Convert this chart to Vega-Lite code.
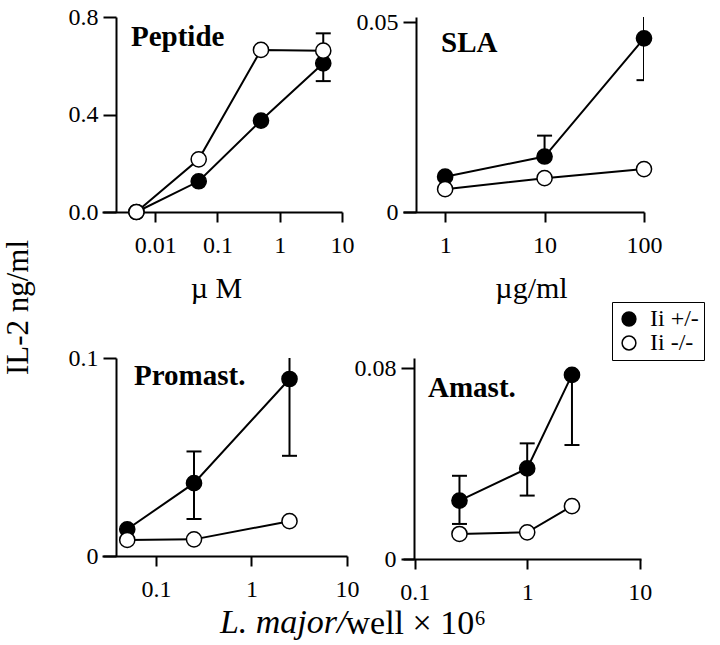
{
  "$schema": "https://vega.github.io/schema/vega-lite/v6.json",
  "background": "white",
  "autosize": {"type": "pad"},
  "padding": {"left": 2, "top": 5, "right": 5, "bottom": 5},
  "datasets": {
    "pts": [
      {"panel": "Peptide", "series": "Ii +/-", "dose": 0.005, "il2": 0.0},
      {"panel": "Peptide", "series": "Ii +/-", "dose": 0.05, "il2": 0.126},
      {"panel": "Peptide", "series": "Ii +/-", "dose": 0.5, "il2": 0.375},
      {"panel": "Peptide", "series": "Ii +/-", "dose": 5, "il2": 0.61},
      {"panel": "Peptide", "series": "Ii -/-", "dose": 0.005, "il2": 0.0},
      {"panel": "Peptide", "series": "Ii -/-", "dose": 0.05, "il2": 0.216},
      {"panel": "Peptide", "series": "Ii -/-", "dose": 0.5, "il2": 0.665},
      {"panel": "Peptide", "series": "Ii -/-", "dose": 5, "il2": 0.662},
      {"panel": "SLA", "series": "Ii +/-", "dose": 1, "il2": 0.0093},
      {"panel": "SLA", "series": "Ii +/-", "dose": 10, "il2": 0.0146},
      {"panel": "SLA", "series": "Ii +/-", "dose": 100, "il2": 0.0457},
      {"panel": "SLA", "series": "Ii -/-", "dose": 1, "il2": 0.006},
      {"panel": "SLA", "series": "Ii -/-", "dose": 10, "il2": 0.0089},
      {"panel": "SLA", "series": "Ii -/-", "dose": 100, "il2": 0.0113},
      {"panel": "Promast", "series": "Ii +/-", "dose": 0.05, "il2": 0.0135},
      {"panel": "Promast", "series": "Ii +/-", "dose": 0.25, "il2": 0.0368},
      {"panel": "Promast", "series": "Ii +/-", "dose": 2.5, "il2": 0.0894},
      {"panel": "Promast", "series": "Ii -/-", "dose": 0.05, "il2": 0.0081},
      {"panel": "Promast", "series": "Ii -/-", "dose": 0.25, "il2": 0.0084},
      {"panel": "Promast", "series": "Ii -/-", "dose": 2.5, "il2": 0.0176},
      {"panel": "Amast", "series": "Ii +/-", "dose": 0.25, "il2": 0.0245},
      {"panel": "Amast", "series": "Ii +/-", "dose": 1, "il2": 0.038},
      {"panel": "Amast", "series": "Ii +/-", "dose": 2.5, "il2": 0.0772},
      {"panel": "Amast", "series": "Ii -/-", "dose": 0.25, "il2": 0.0105},
      {"panel": "Amast", "series": "Ii -/-", "dose": 1, "il2": 0.0112},
      {"panel": "Amast", "series": "Ii -/-", "dose": 2.5, "il2": 0.0222}
    ],
    "err": [
      {"panel": "Peptide", "dose": 5, "mean": 0.61, "end": 0.733},
      {"panel": "Peptide", "dose": 5, "mean": 0.61, "end": 0.537},
      {"panel": "SLA", "dose": 10, "mean": 0.0146, "end": 0.0201},
      {"panel": "SLA", "dose": 100, "mean": 0.0457, "end": 0.0525},
      {"panel": "SLA", "dose": 100, "mean": 0.0457, "end": 0.0347},
      {"panel": "Promast", "dose": 0.25, "mean": 0.0368, "end": 0.0528},
      {"panel": "Promast", "dose": 0.25, "mean": 0.0368, "end": 0.0187},
      {"panel": "Promast", "dose": 2.5, "mean": 0.0894, "end": 0.105},
      {"panel": "Promast", "dose": 2.5, "mean": 0.0894, "end": 0.0506},
      {"panel": "Amast", "dose": 0.25, "mean": 0.0245, "end": 0.0349},
      {"panel": "Amast", "dose": 0.25, "mean": 0.0245, "end": 0.0147},
      {"panel": "Amast", "dose": 1, "mean": 0.038, "end": 0.0485},
      {"panel": "Amast", "dose": 1, "mean": 0.038, "end": 0.0266},
      {"panel": "Amast", "dose": 2.5, "mean": 0.0772, "end": 0.0478}
    ]
  },
  "columns": 2,
  "align": "none",
  "bounds": "flush",
  "spacing": {"row": 146, "column": 56},
  "concat": [
    {
      "width": 240, "height": 195,
      "title": {"text": "Peptide", "dx": 29, "dy": 51},
      "encoding": {
        "x": {"field": "dose", "type": "quantitative",
          "scale": {"type": "log", "domain": [0.0014, 10], "nice": false},
          "axis": {"values": [0.01, 0.1, 1, 10], "format": "~g", "title": "µ M", "titleX": 114, "titleY": 85, "titleBaseline": "alphabetic", "titleAlign": "center"}}
      },
      "layer": [
        {"data": {"name": "err"}, "transform": [{"filter": "datum.panel === 'Peptide'"}],
         "mark": {"type": "rule", "clip": true, "strokeWidth": 2, "color": "black"},
         "encoding": {"y": {"field": "mean", "type": "quantitative"}, "y2": {"field": "end"}}},
        {"data": {"name": "err"}, "transform": [{"filter": "datum.panel === 'Peptide'"}],
         "mark": {"type": "tick", "orient": "horizontal", "clip": true, "size": 15, "thickness": 2, "color": "black", "opacity": 1},
         "encoding": {"y": {"field": "end", "type": "quantitative"}}},
        {"data": {"name": "pts"}, "transform": [{"filter": "datum.panel === 'Peptide'"}],
         "mark": {"type": "line", "color": "black", "strokeWidth": 2},
         "encoding": {
           "y": {"field": "il2", "type": "quantitative",
             "scale": {"domain": [0, 0.8], "nice": false, "zero": false},
             "axis": {"values": [0, 0.4, 0.8], "format": ".1f", "offset": -14, "title": "IL-2 ng/ml", "titleX": -89, "titleY": 290, "titleAngle": 270, "titleAlign": "center", "titleBaseline": "alphabetic", "titleFontSize": 31}},
           "detail": {"field": "series"}}},
        {"data": {"name": "pts"}, "transform": [{"filter": "datum.panel === 'Peptide'"}],
         "mark": {"type": "point", "shape": "circle", "filled": true, "stroke": "black", "strokeWidth": 1.5, "size": 230, "opacity": 1},
         "encoding": {
           "y": {"field": "il2", "type": "quantitative"},
           "fill": {"field": "series", "type": "nominal", "scale": {"domain": ["Ii +/-", "Ii -/-"], "range": ["black", "white"]},
             "legend": {"title": null, "orient": "none", "legendX": 510, "legendY": 285, "strokeColor": "black", "padding": 5, "labelFont": "Liberation Serif", "labelFontSize": 24, "labelColor": "black", "symbolType": "circle", "symbolSize": 190, "symbolStrokeColor": "black", "symbolStrokeWidth": 1.5, "rowPadding": 0, "labelOffset": 9}}}}
      ]
    },
    {
      "width": 241, "height": 195,
      "title": {"text": "SLA", "dx": 38, "dy": 52},
      "encoding": {
        "x": {"field": "dose", "type": "quantitative",
          "scale": {"type": "log", "domain": [0.377, 100], "nice": false},
          "axis": {"values": [1, 10, 100], "format": "~g", "title": "µg/ml", "titleX": 128, "titleY": 85, "titleBaseline": "alphabetic", "titleAlign": "center"}}
      },
      "layer": [
        {"data": {"name": "err"}, "transform": [{"filter": "datum.panel === 'SLA'"}],
         "mark": {"type": "rule", "clip": true, "strokeWidth": 2, "color": "black"},
         "encoding": {"y": {"field": "mean", "type": "quantitative"}, "y2": {"field": "end"}}},
        {"data": {"name": "err"}, "transform": [{"filter": "datum.panel === 'SLA'"}],
         "mark": {"type": "tick", "orient": "horizontal", "clip": true, "size": 15, "thickness": 2, "color": "black", "opacity": 1},
         "encoding": {"y": {"field": "end", "type": "quantitative"}}},
        {"data": {"name": "pts"}, "transform": [{"filter": "datum.panel === 'SLA'"}],
         "mark": {"type": "line", "color": "black", "strokeWidth": 2},
         "encoding": {
           "y": {"field": "il2", "type": "quantitative",
             "scale": {"domain": [0, 0.05132], "nice": false, "zero": false},
             "axis": {"values": [0, 0.05], "format": "~g", "offset": -13, "title": null}},
           "detail": {"field": "series"}}},
        {"data": {"name": "pts"}, "transform": [{"filter": "datum.panel === 'SLA'"}],
         "mark": {"type": "point", "shape": "circle", "filled": true, "stroke": "black", "strokeWidth": 1.5, "size": 230, "opacity": 1},
         "encoding": {
           "y": {"field": "il2", "type": "quantitative"},
           "fill": {"field": "series", "type": "nominal"}}}
      ]
    },
    {
      "width": 245, "height": 198,
      "title": {"text": "Promast.", "dx": 32, "dy": 49},
      "encoding": {
        "x": {"field": "dose", "type": "quantitative",
          "scale": {"type": "log", "domain": [0.0272, 10], "nice": false},
          "axis": {"values": [0.1, 1, 10], "format": "~g", "title": "L. major/", "titleFontStyle": "italic", "titleFontSize": 34, "titleX": 244, "titleY": 76, "titleBaseline": "alphabetic", "titleAlign": "right"}}
      },
      "layer": [
        {"data": {"name": "err"}, "transform": [{"filter": "datum.panel === 'Promast'"}],
         "mark": {"type": "rule", "clip": true, "strokeWidth": 2, "color": "black"},
         "encoding": {"y": {"field": "mean", "type": "quantitative"}, "y2": {"field": "end"}}},
        {"data": {"name": "err"}, "transform": [{"filter": "datum.panel === 'Promast'"}],
         "mark": {"type": "tick", "orient": "horizontal", "clip": true, "size": 15, "thickness": 2, "color": "black", "opacity": 1},
         "encoding": {"y": {"field": "end", "type": "quantitative"}}},
        {"data": {"name": "pts"}, "transform": [{"filter": "datum.panel === 'Promast'"}],
         "mark": {"type": "line", "color": "black", "strokeWidth": 2},
         "encoding": {
           "y": {"field": "il2", "type": "quantitative",
             "scale": {"domain": [0, 0.1], "nice": false, "zero": false},
             "axis": {"values": [0, 0.1], "format": "~g", "offset": -14, "title": null}},
           "detail": {"field": "series"}}},
        {"data": {"name": "pts"}, "transform": [{"filter": "datum.panel === 'Promast'"}],
         "mark": {"type": "point", "shape": "circle", "filled": true, "stroke": "black", "strokeWidth": 1.5, "size": 230, "opacity": 1},
         "encoding": {
           "y": {"field": "il2", "type": "quantitative"},
           "fill": {"field": "series", "type": "nominal"}}}
      ]
    },
    {
      "width": 238, "height": 201,
      "title": {"text": "Amast.", "dx": 25, "dy": 51},
      "encoding": {
        "x": {"field": "dose", "type": "quantitative",
          "scale": {"type": "log", "domain": [0.0787, 10.27], "nice": false},
          "axis": {"values": [0.1, 1, 10], "format": "~g", "title": "well  ×  10⁶", "titleFontSize": 34, "titleX": -58, "titleY": 74, "titleBaseline": "alphabetic", "titleAlign": "left"}}
      },
      "layer": [
        {"data": {"name": "err"}, "transform": [{"filter": "datum.panel === 'Amast'"}],
         "mark": {"type": "rule", "clip": true, "strokeWidth": 2, "color": "black"},
         "encoding": {"y": {"field": "mean", "type": "quantitative"}, "y2": {"field": "end"}}},
        {"data": {"name": "err"}, "transform": [{"filter": "datum.panel === 'Amast'"}],
         "mark": {"type": "tick", "orient": "horizontal", "clip": true, "size": 15, "thickness": 2, "color": "black", "opacity": 1},
         "encoding": {"y": {"field": "end", "type": "quantitative"}}},
        {"data": {"name": "pts"}, "transform": [{"filter": "datum.panel === 'Amast'"}],
         "mark": {"type": "line", "color": "black", "strokeWidth": 2},
         "encoding": {
           "y": {"field": "il2", "type": "quantitative",
             "scale": {"domain": [0, 0.0843], "nice": false, "zero": false},
             "axis": {"values": [0, 0.08], "format": "~g", "offset": -11, "title": null}},
           "detail": {"field": "series"}}},
        {"data": {"name": "pts"}, "transform": [{"filter": "datum.panel === 'Amast'"}],
         "mark": {"type": "point", "shape": "circle", "filled": true, "stroke": "black", "strokeWidth": 1.5, "size": 230, "opacity": 1},
         "encoding": {
           "y": {"field": "il2", "type": "quantitative"},
           "fill": {"field": "series", "type": "nominal"}}}
      ]
    }
  ],
  "config": {
    "view": {"stroke": null},
    "font": "Liberation Serif",
    "axis": {"grid": false, "domainColor": "black", "domainWidth": 2, "tickColor": "black", "tickWidth": 2, "labelColor": "black", "labelFont": "Liberation Serif", "labelFontSize": 24, "titleFont": "Liberation Serif", "titleFontSize": 30, "titleFontWeight": "normal", "titleColor": "black", "labelFlush": false, "labelOverlap": false},
    "axisX": {"tickSize": 10, "labelPadding": 11},
    "axisY": {"tickSize": 13, "labelPadding": 5},
    "title": {"font": "Liberation Serif", "fontSize": 29, "fontWeight": "bold", "color": "black", "anchor": "start", "frame": "group", "offset": 0, "baseline": "alphabetic"}
  }
}
